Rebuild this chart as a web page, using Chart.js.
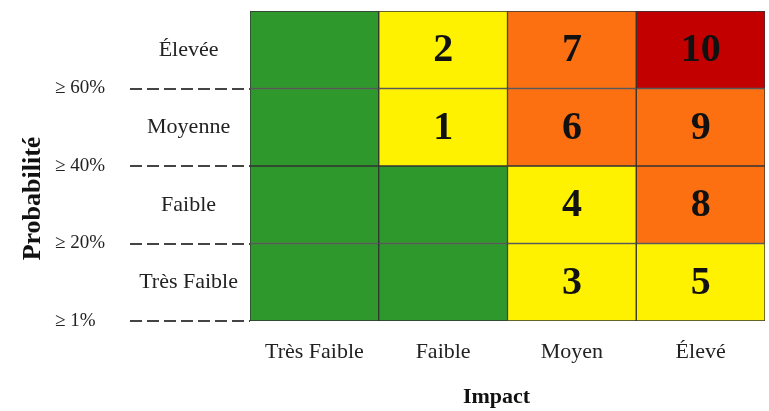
<!DOCTYPE html>
<html>
<head>
<meta charset="utf-8">
<script src="https://cdn.jsdelivr.net/npm/chart.js@4"></script>
<style>
  body { margin: 0; background: #fff; }
</style>
</head>
<body>
<canvas id="riskChart" width="769" height="411"></canvas>
<script>
const impactLabels = ["Très Faible", "Faible", "Moyen", "Élevé"];
const probLabels = ["Élevée", "Moyenne", "Faible", "Très Faible"];
const thresholdLabels = ["≥ 1%", "≥ 20%", "≥ 40%", "≥ 60%"]; // index = boundary value
const probBands = [[3, 4], [2, 3], [1, 2], [0, 1]];
const riskScores = [
  [null, 2, 7, 10],
  [null, 1, 6, 9],
  [null, null, 4, 8],
  [null, null, 3, 5],
];
const riskLevels = [
  [0, 1, 2, 3],
  [0, 1, 2, 2],
  [0, 0, 1, 2],
  [0, 0, 1, 1],
];
const levelColors = ["#2f982c", "#fff200", "#fd7012", "#c20000"];

const serif = "'Liberation Serif', 'DejaVu Serif', serif";

// numbers inside the cells + dashed threshold lines
const matrixExtras = {
  id: "matrixExtras",
  afterDatasetsDraw(chart) {
    const ctx = chart.ctx;
    ctx.save();
    ctx.fillStyle = "#111";
    ctx.font = "bold 40px " + serif;
    ctx.textAlign = "center";
    ctx.textBaseline = "middle";
    chart.data.datasets.forEach((ds, r) => {
      chart.getDatasetMeta(r).data.forEach((bar, c) => {
        const v = riskScores[r][c];
        if (v === null) return;
        const p = bar.getCenterPoint();
        ctx.fillText(String(v), p.x, p.y + 1);
      });
    });
    ctx.restore();
  },
  afterDraw(chart) {
    const ctx = chart.ctx;
    const yScale = chart.scales.y;
    const x0 = chart.scales.yRows.left;
    const x1 = chart.chartArea.left;
    ctx.save();
    ctx.strokeStyle = "#444";
    ctx.lineWidth = 2;
    ctx.setLineDash([12, 5]);
    thresholdLabels.forEach((_, v) => {
      const y = Math.round(yScale.getPixelForValue(v));
      ctx.beginPath();
      ctx.moveTo(x0, y);
      ctx.lineTo(x1, y);
      ctx.stroke();
    });
    ctx.restore();
  },
};

// fixed width for the left axes, no extra label padding above/below
const fixWidth = w => scale => {
  scale.width = w;
  scale.paddingTop = 0;
  scale.paddingBottom = 0;
};

new Chart(document.getElementById("riskChart"), {
  type: "bar",
  data: {
    labels: impactLabels,
    datasets: probLabels.map((name, r) => ({
      label: name,
      data: impactLabels.map(() => probBands[r]),
      backgroundColor: riskLevels[r].map(l => levelColors[l]),
      borderColor: "#333",
      borderWidth: 1,
      borderSkipped: false,
      categoryPercentage: 1,
      barPercentage: 1,
    })),
  },
  options: {
    responsive: false,
    animation: false,
    layout: { padding: { top: 11, right: 4, left: 0, bottom: 0 } },
    plugins: {
      legend: { display: false },
      tooltip: { enabled: false },
    },
    scales: {
      x: {
        stacked: true,
        grid: { display: false },
        border: { display: false },
        ticks: { color: "#222", padding: 10, font: { family: serif, size: 22 } },
        title: {
          display: true,
          text: "Impact    ",
          color: "#111",
          padding: { top: 0, bottom: 0 },
          font: { family: serif, size: 22, weight: "bold" },
        },
        afterFit: scale => { scale.height = 90; },
      },
      yTitle: {
        type: "linear",
        position: "left",
        weight: 2,
        grid: { display: false },
        border: { display: false },
        ticks: { display: false },
        title: {
          display: true,
          text: "Probabilité          ",
          color: "#111",
          padding: { top: 18, bottom: 0 },
          font: { family: serif, size: 26, weight: "bold" },
        },
        afterFit: fixWidth(55),
      },
      y: {
        type: "linear",
        position: "left",
        weight: 1,
        min: 0,
        max: 4,
        grid: { display: false },
        border: { display: false },
        ticks: {
          stepSize: 1,
          crossAlign: "far",
          color: "#222",
          font: { family: serif, size: 19 },
          callback: v => thresholdLabels[v] ?? "",
        },
        afterFit: fixWidth(75),
      },
      yRows: {
        type: "category",
        position: "left",
        weight: 0,
        labels: probLabels,
        offset: true,
        grid: { display: false },
        border: { display: false },
        ticks: {
          crossAlign: "center",
          padding: 4,
          color: "#222",
          font: { family: serif, size: 22 },
        },
        afterFit: fixWidth(120),
      },
    },
  },
  plugins: [matrixExtras],
});
</script>
</body>
</html>
